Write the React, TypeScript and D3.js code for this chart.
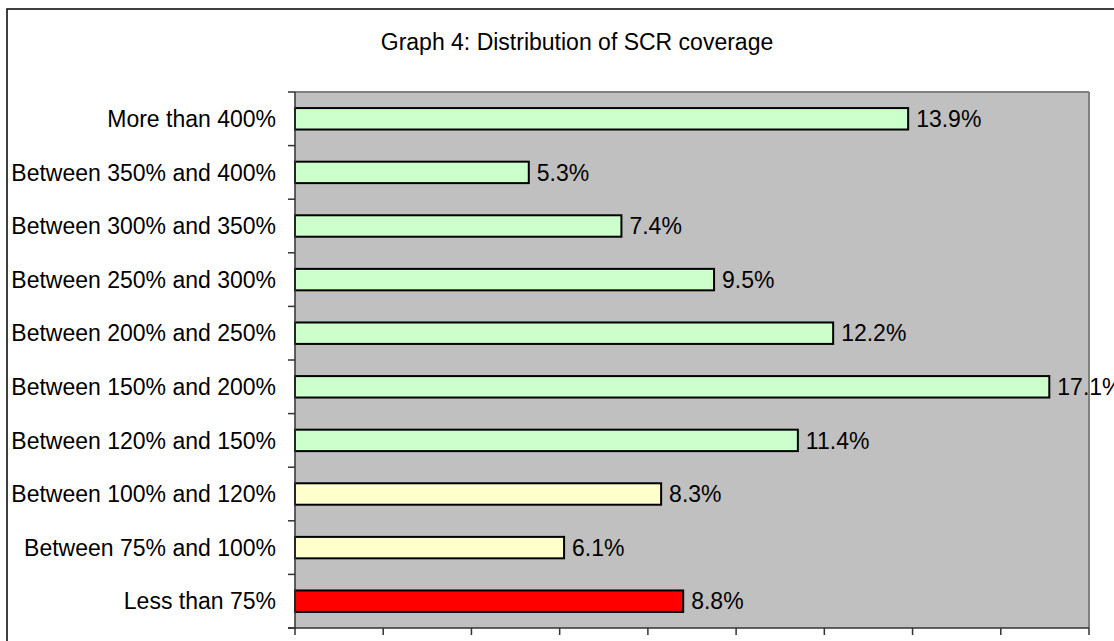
import React from "react";
import * as d3 from "d3";

// categories top to bottom, as in the chart
const categories = [
  "More than 400%",
  "Between 350% and 400%",
  "Between 300% and 350%",
  "Between 250% and 300%",
  "Between 200% and 250%",
  "Between 150% and 200%",
  "Between 120% and 150%",
  "Between 100% and 120%",
  "Between 75% and 100%",
  "Less than 75%",
];
const shares = [13.9, 5.3, 7.4, 9.5, 12.2, 17.1, 11.4, 8.3, 6.1, 8.8];
const barColors = [
  "#CCFFCC", "#CCFFCC", "#CCFFCC", "#CCFFCC", "#CCFFCC",
  "#CCFFCC", "#CCFFCC", "#FFFFCC", "#FFFFCC", "#FF0000",
];
const xTicks = [0, 2, 4, 6, 8, 10, 12, 14, 16, 18];
const title = "Graph 4: Distribution of SCR coverage";

const W = 1114;
const H = 641;
const plot = { left: 295, right: 1089, top: 92, bottom: 628 };
const font = "'Liberation Sans', Arial, sans-serif";

const App = () => {
  const x = d3.scaleLinear().domain([0, 18]).range([plot.left, plot.right]);
  const y = d3
    .scaleBand<string>()
    .domain(categories)
    .range([plot.top, plot.bottom])
    .paddingInner(0.6)
    .paddingOuter(0.3);
  const step = y.step();
  // boundaries between categories for the left ticks
  const bounds = d3.range(categories.length + 1).map(i => plot.top + i * ((plot.bottom - plot.top) / categories.length));

  return (
    <svg
      width={W}
      height={H}
      style={{ position: "absolute", left: 0, top: 0, background: "#fff" }}
      fontFamily={font}
    >
      {/* outer chart frame */}
      <rect x={7} y={9} width={W + 20} height={H + 20} fill="#fff" stroke="#000" strokeWidth={1.5} />

      <text x={577} y={50} textAnchor="middle" fontSize={23} fill="#000">
        {title}
      </text>

      {/* plot area */}
      <rect x={plot.left} y={plot.top} width={plot.right - plot.left} height={plot.bottom - plot.top} fill="#C0C0C0" />
      <line x1={plot.left} x2={plot.right} y1={plot.top} y2={plot.top} stroke="#808080" strokeWidth={2} />

      {/* bars */}
      {categories.map((c, i) => (
        <rect
          key={c}
          x={x(0)}
          y={y(c)}
          width={x(shares[i]) - x(0)}
          height={y.bandwidth()}
          fill={barColors[i]}
          stroke="#000"
          strokeWidth={2}
        />
      ))}

      {/* value labels */}
      {categories.map((c, i) => (
        <text
          key={c + "-v"}
          x={x(shares[i]) + 8}
          y={(y(c) as number) + y.bandwidth() / 2}
          dy="0.36em"
          fontSize={23}
          fill="#000"
        >
          {shares[i].toFixed(1)}%
        </text>
      ))}

      {/* right border drawn over labels */}
      <line x1={plot.right} x2={plot.right} y1={plot.top} y2={plot.bottom} stroke="#808080" strokeWidth={2} />

      {/* category labels */}
      {categories.map(c => (
        <text
          key={c + "-l"}
          x={276}
          y={(y(c) as number) + y.bandwidth() / 2}
          dy="0.36em"
          textAnchor="end"
          fontSize={23}
          fill="#000"
        >
          {c}
        </text>
      ))}

      {/* left axis */}
      <line x1={plot.left} x2={plot.left} y1={plot.top} y2={plot.bottom} stroke="#333" strokeWidth={1.5} />
      {bounds.map((b, i) => (
        <line key={"yt" + i} x1={plot.left - 7} x2={plot.left} y1={b} y2={b} stroke="#333" strokeWidth={1.5} />
      ))}

      {/* bottom axis, no labels */}
      <line x1={plot.left - 7} x2={plot.right} y1={plot.bottom} y2={plot.bottom} stroke="#333" strokeWidth={1.5} />
      {xTicks.map(t => (
        <line key={"xt" + t} x1={x(t)} x2={x(t)} y1={plot.bottom} y2={plot.bottom + 7} stroke="#333" strokeWidth={1.5} />
      ))}
      {step > 0 ? null : null}
    </svg>
  );
};

export default App;
